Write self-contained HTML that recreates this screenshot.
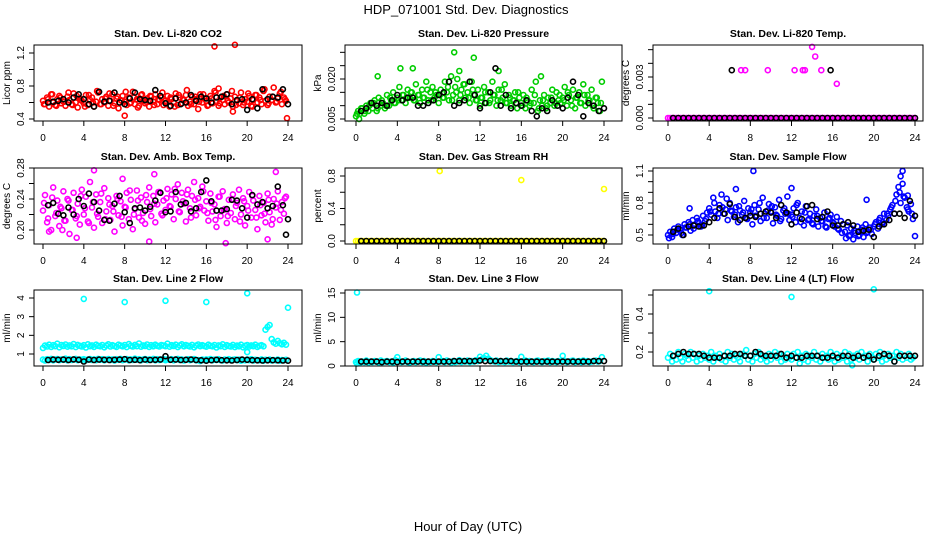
<!DOCTYPE html>
<html><head><meta charset="utf-8"><style>
html,body{margin:0;padding:0;background:#fff;}
svg{display:block;font-family:"Liberation Sans",Arial,sans-serif;}
</style></head><body>
<svg id="chart" width="936" height="540" viewBox="0 0 936 540">
<text x="466" y="14" font-size="13" text-anchor="middle">HDP_071001  Std. Dev. Diagnostics</text>
<text x="468" y="531" font-size="13" text-anchor="middle">Hour of Day (UTC)</text>
<g id="panels"></g>
</svg>
<script>
const xTicks=[0,4,8,12,16,20,24];
const fine=i=>i*0.2;   // colored series sampled every 0.2 h
const mid=i=>0.1+i*0.4; // extra colored samples every 0.4 h
const half=i=>0.5+i*0.5; // black series every 0.5 h

// ---- Panel 1: CO2 ----
const co2Red=[0.62,0.58,0.66,0.55,0.70,0.60,0.57,0.64,0.68,0.59,0.61,0.56,0.67,0.63,0.58,0.71,0.60,0.54,0.65,0.62,
0.59,0.69,0.57,0.63,0.66,0.55,0.61,0.72,0.58,0.64,0.60,0.67,0.56,0.62,0.70,0.59,0.65,0.53,0.63,0.68,
0.61,0.57,0.66,0.60,0.73,0.58,0.64,0.56,0.69,0.62,0.59,0.65,0.55,0.67,0.61,0.70,0.58,0.63,0.66,0.57,
0.62,0.68,0.55,0.64,0.60,0.71,0.57,0.66,0.59,0.63,0.69,0.56,0.61,0.67,0.58,0.64,0.52,0.70,0.60,0.65,
0.62,0.57,0.68,0.59,0.74,0.61,0.56,0.66,0.63,0.58,0.70,0.60,0.65,0.55,0.67,0.62,0.59,0.72,0.57,0.64,
0.61,0.68,0.56,0.63,0.69,0.60,0.66,0.58,0.74,0.62,0.57,0.67,0.63,0.78,0.60,0.65,0.71,0.58,0.66,0.62];
const co2Red2=[0.58,0.64,0.70,0.56,0.66,0.61,0.72,0.57,0.68,0.63,0.55,0.69,0.60,0.74,0.58,0.65,0.71,0.56,0.67,0.62,
0.73,0.59,0.66,0.54,0.70,0.61,0.68,0.57,0.64,0.72,0.60,0.66,0.55,0.69,0.63,0.75,0.58,0.67,0.61,0.70,
0.56,0.65,0.72,0.59,0.68,0.62,0.74,0.57,0.66,0.60,0.71,0.55,0.69,0.63,0.76,0.59,0.67,0.61,0.73,0.64];
const co2OutX=[16.8,18.8,8.0,23.9,18.6,17.2];
const co2OutY=[1.28,1.30,0.44,0.41,0.49,0.77];
const co2Black=[0.60,0.61,0.62,0.64,0.60,0.66,0.70,0.64,0.58,0.55,0.73,0.61,0.62,0.72,0.60,0.58,0.65,0.72,0.64,0.63,0.62,0.75,0.68,0.59,0.56,0.65,0.58,0.60,0.69,0.62,0.67,0.65,0.60,0.66,0.67,0.70,0.58,0.63,0.64,0.51,0.64,0.53,0.76,0.64,0.67,0.66,0.76,0.58];

// ---- Panel 2: Pressure ----
const presGreen=[0.006,0.008,0.007,0.009,0.007,0.010,0.008,0.011,0.009,0.012,0.008,0.013,0.010,0.011,0.009,0.014,0.010,0.012,0.015,0.011,
0.013,0.017,0.012,0.014,0.011,0.016,0.013,0.015,0.012,0.018,0.014,0.011,0.016,0.013,0.019,0.012,0.015,0.017,0.013,0.014,
0.011,0.016,0.013,0.019,0.015,0.012,0.021,0.014,0.017,0.020,0.012,0.016,0.018,0.013,0.015,0.011,0.019,0.014,0.012,0.016,
0.010,0.013,0.017,0.011,0.015,0.012,0.019,0.014,0.010,0.016,0.012,0.013,0.018,0.011,0.014,0.010,0.012,0.015,0.009,0.013,
0.011,0.014,0.009,0.012,0.010,0.016,0.011,0.019,0.008,0.012,0.010,0.014,0.009,0.013,0.011,0.016,0.010,0.015,0.012,0.011,
0.013,0.017,0.010,0.014,0.012,0.016,0.009,0.013,0.015,0.011,0.018,0.010,0.014,0.012,0.016,0.009,0.013,0.011,0.008,0.019];
const presGreen2=[0.007,0.009,0.008,0.010,0.011,0.009,0.012,0.010,0.013,0.011,0.012,0.014,0.013,0.015,0.012,0.014,0.013,0.016,0.012,0.015,
0.014,0.013,0.017,0.012,0.015,0.014,0.018,0.013,0.016,0.012,0.013,0.015,0.011,0.014,0.012,0.016,0.011,0.013,0.012,0.015,
0.010,0.013,0.011,0.014,0.009,0.012,0.010,0.013,0.011,0.014,0.012,0.015,0.010,0.013,0.011,0.014,0.012,0.010,0.013,0.011];
const presOutX=[9.5,11.4,5.5,4.3,2.1,13.8,17.9,10.0,0.3];
const presOutY=[0.030,0.028,0.024,0.024,0.021,0.023,0.021,0.023,0.005];
const presBlack=[0.008,0.009,0.011,0.010,0.011,0.010,0.012,0.014,0.012,0.013,0.013,0.010,0.010,0.011,0.012,0.014,0.015,0.019,0.010,0.011,0.012,0.019,0.014,0.009,0.011,0.015,0.024,0.010,0.014,0.009,0.011,0.010,0.012,0.008,0.006,0.009,0.008,0.012,0.010,0.009,0.013,0.019,0.014,0.006,0.011,0.010,0.008,0.009];

// ---- Panel 3: Li-820 Temp ----
const tempMag=new Array(121).fill(0);
const tempOutX=[7.1,7.5,9.7,12.3,13.1,13.3,14.9,14.0,14.3,16.4];
const tempOutY=[0.0035,0.0035,0.0035,0.0035,0.0035,0.0035,0.0035,0.0052,0.0045,0.0025];
const tempBlack=new Array(48).fill(0);
const tempBlkOutX=[6.2,15.8];
const tempBlkOutY=[0.0035,0.0035];

// ---- Panel 4: Amb Box Temp ----
const boxMag=[0.225,0.245,0.210,0.232,0.200,0.255,0.218,0.238,0.205,0.228,0.250,0.212,0.240,0.195,0.226,0.248,0.215,0.234,0.207,0.252,
0.220,0.243,0.211,0.262,0.229,0.203,0.246,0.217,0.236,0.209,0.254,0.224,0.241,0.213,0.231,0.198,0.244,0.219,0.237,0.206,
0.230,0.248,0.214,0.239,0.201,0.227,0.251,0.216,0.242,0.222,0.208,0.236,0.255,0.218,0.244,0.210,0.233,0.249,0.221,0.238,
0.226,0.253,0.231,0.246,0.214,0.240,0.259,0.223,0.248,0.234,0.211,0.252,0.228,0.244,0.262,0.219,0.241,0.230,0.256,0.225,
0.237,0.212,0.247,0.224,0.233,0.204,0.243,0.218,0.250,0.227,0.209,0.239,0.222,0.246,0.214,0.235,0.252,0.220,0.241,0.206,
0.231,0.249,0.216,0.238,0.226,0.201,0.244,0.219,0.235,0.210,0.247,0.223,0.207,0.240,0.229,0.250,0.213,0.236,0.221,0.243];
const boxMag2=[0.235,0.215,0.242,0.222,0.230,0.212,0.238,0.226,0.218,0.244,0.228,0.209,0.236,0.221,0.247,0.214,0.233,0.224,0.240,0.217,
0.229,0.251,0.220,0.238,0.212,0.245,0.227,0.234,0.249,0.219,0.241,0.230,0.253,0.224,0.237,0.246,0.216,0.239,0.228,0.250,
0.222,0.235,0.213,0.243,0.226,0.218,0.240,0.231,0.211,0.237,0.225,0.244,0.216,0.232,0.221,0.239,0.214,0.234,0.226,0.241];
const boxOutX=[5.0,7.8,10.9,22.8,10.4,17.9,22.0,3.3,0.6,1.9];
const boxOutY=[0.277,0.266,0.272,0.275,0.185,0.183,0.188,0.190,0.198,0.200];
const boxBlack=[0.232,0.235,0.221,0.219,0.229,0.220,0.240,0.231,0.247,0.236,0.225,0.213,0.212,0.234,0.244,0.223,0.209,0.228,0.229,0.225,0.230,0.238,0.248,0.223,0.224,0.249,0.233,0.235,0.224,0.228,0.249,0.264,0.237,0.225,0.225,0.227,0.239,0.238,0.228,0.216,0.245,0.233,0.236,0.228,0.231,0.256,0.232,0.214];
const boxBlkOutX=[23.8];
const boxBlkOutY=[0.194];

// ---- Panel 5: Gas Stream RH ----
const rhYel=new Array(121).fill(0);
const rhOutX=[8.1,16.0,24.0];
const rhOutY=[0.86,0.75,0.64];
const rhBlack=new Array(48).fill(0);

// ---- Panel 6: Sample Flow ----
const sfBlue=[0.50,0.53,0.48,0.56,0.52,0.58,0.55,0.50,0.60,0.57,0.62,0.54,0.64,0.59,0.66,0.61,0.58,0.68,0.63,0.71,
0.75,0.69,0.85,0.72,0.66,0.78,0.88,0.70,0.74,0.64,0.80,0.72,0.67,0.76,0.62,0.73,0.69,0.82,0.66,0.75,
0.71,0.60,0.78,0.68,0.74,0.63,0.85,0.70,0.66,0.79,0.72,0.61,0.76,0.68,0.83,0.65,0.73,0.70,0.86,0.64,
0.69,0.75,0.62,0.80,0.66,0.72,0.59,0.77,0.64,0.70,0.61,0.68,0.74,0.58,0.66,0.63,0.71,0.57,0.65,0.69,
0.62,0.58,0.67,0.55,0.63,0.60,0.53,0.59,0.49,0.56,0.46,0.52,0.58,0.50,0.55,0.48,0.60,0.53,0.57,0.51,
0.58,0.62,0.56,0.66,0.60,0.70,0.64,0.68,0.74,0.78,0.70,0.88,0.95,0.80,0.98,0.85,0.76,0.72,0.79,0.65];
const sfBlue2=[0.47,0.51,0.55,0.52,0.57,0.60,0.56,0.63,0.59,0.65,0.72,0.80,0.70,0.76,0.84,0.73,0.69,0.77,0.71,0.65,
0.74,0.68,0.80,0.66,0.73,0.77,0.69,0.63,0.75,0.70,0.67,0.78,0.62,0.71,0.65,0.60,0.68,0.63,0.58,0.66,
0.61,0.56,0.52,0.47,0.50,0.54,0.49,0.57,0.52,0.55,0.60,0.64,0.62,0.70,0.76,0.82,0.90,0.86,0.74,0.70];
const sfOutX=[8.3,22.8,6.6,12.0,19.3,24.0,2.1,22.6,23.3];
const sfOutY=[1.10,1.10,0.93,0.94,0.83,0.49,0.75,1.05,0.87];
const sfBlack=[0.53,0.56,0.50,0.58,0.59,0.58,0.59,0.62,0.66,0.75,0.70,0.79,0.67,0.64,0.66,0.68,0.67,0.70,0.72,0.71,0.66,0.78,0.71,0.60,0.71,0.65,0.77,0.78,0.65,0.67,0.72,0.59,0.59,0.60,0.62,0.59,0.53,0.54,0.55,0.48,0.58,0.60,0.64,0.70,0.70,0.66,0.82,0.68];

// ---- Panel 7: Line 2 Flow ----
const l2Hi=[1.32,1.45,1.40,1.50,1.38,1.47,1.42,1.55,1.36,1.48,1.43,1.51,1.39,1.46,1.41,1.53,1.37,1.49,1.44,1.40,
1.47,1.35,1.52,1.42,1.46,1.38,1.50,1.44,1.41,1.48,1.36,1.45,1.52,1.40,1.47,1.43,1.38,1.50,1.45,1.41,
1.48,1.37,1.53,1.44,1.40,1.49,1.42,1.56,1.39,1.46,1.43,1.51,1.38,1.47,1.41,1.50,1.44,1.40,1.48,1.45,
1.42,1.55,1.39,1.47,1.43,1.50,1.37,1.46,1.52,1.41,1.48,1.44,1.40,1.49,1.36,1.45,1.51,1.42,1.47,1.43,
1.39,1.50,1.44,1.41,1.48,1.35,1.46,1.42,1.52,1.38,1.47,1.43,1.40,1.49,1.37,1.45,1.41,1.50,1.36,1.44,
1.48,1.40,1.46,1.42,1.50,1.38,1.44,1.47,1.41,2.30,2.45,2.55,1.80,1.62,1.55,1.70,1.58,1.52,1.60,1.50];
const l2Lo=[0.70,0.65,0.72,0.68,0.74,0.66,0.70,0.73,0.67,0.71,0.69,0.75,0.66,0.72,0.68,0.70,0.74,0.67,0.71,0.69,
0.72,0.66,0.70,0.73,0.68,0.71,0.67,0.74,0.69,0.72,0.66,0.70,0.73,0.68,0.71,0.65,0.72,0.69,0.74,0.67,
0.70,0.73,0.66,0.71,0.68,0.75,0.69,0.72,0.66,0.70,0.73,0.67,0.71,0.69,0.74,0.66,0.72,0.68,0.70,0.73,
0.67,0.71,0.69,0.72,0.66,0.70,0.74,0.68,0.71,0.65,0.69,0.72,0.67,0.70,0.73,0.66,0.68,0.62,0.70,0.67,
0.71,0.69,0.73,0.66,0.70,0.68,0.72,0.67,0.65,0.70,0.68,0.72,0.66,0.69,0.71,0.67,0.70,0.64,0.68,0.66,
0.70,0.67,0.72,0.65,0.69,0.68,0.66,0.71,0.64,0.69,0.67,0.70,0.65,0.68,0.66,0.70,0.64,0.68,0.66,0.69];
const l2OutX=[4.0,8.0,12.0,16.0,20.0,24.0,20.0];
const l2OutY=[3.95,3.78,3.85,3.78,4.25,3.48,1.10];
const l2Black=[0.68,0.70,0.69,0.70,0.68,0.71,0.69,0.60,0.70,0.68,0.70,0.69,0.68,0.69,0.70,0.72,0.68,0.69,0.67,0.70,0.68,0.69,0.70,0.88,0.69,0.70,0.68,0.69,0.70,0.68,0.66,0.64,0.67,0.69,0.67,0.66,0.65,0.68,0.70,0.69,0.67,0.66,0.65,0.66,0.67,0.66,0.65,0.64];

// ---- Panel 8: Line 3 Flow ----
const l3Cyan=[0.8,1.0,0.7,0.9,0.8,1.1,0.7,0.9,0.8,1.0,0.9,0.7,1.1,0.8,0.9,1.0,0.8,0.9,0.7,1.2,
1.8,1.0,0.8,0.9,1.1,0.8,0.7,0.9,1.0,0.8,0.9,1.1,0.8,1.0,0.7,0.9,0.8,1.0,0.9,0.8,
1.8,0.9,1.0,0.8,1.1,0.9,0.7,1.0,0.8,0.9,1.2,0.8,1.0,0.9,1.1,0.8,1.0,0.9,1.2,1.0,
1.9,1.4,1.6,2.1,1.5,1.2,1.0,0.9,1.1,0.8,1.0,0.9,0.8,1.1,0.9,1.0,0.8,0.9,1.0,0.8,
1.9,0.9,1.1,0.8,1.0,0.9,0.8,1.0,1.1,0.9,0.8,1.0,0.9,1.1,0.8,1.0,0.9,0.8,1.0,0.9,
2.1,1.0,0.8,0.9,1.0,1.1,0.8,0.9,1.0,0.8,1.1,0.9,1.0,0.8,0.9,1.0,1.1,0.9,1.0,1.8];
const l3OutX=[0.1,0.1];
const l3OutY=[15.1,0.5];
const l3Black=[0.9,0.9,0.9,0.9,0.8,0.9,0.9,0.8,0.9,0.9,0.9,0.9,0.9,0.9,0.9,0.9,0.9,0.9,1.0,1.0,1.0,1.0,1.0,1.1,1.0,1.0,1.0,1.0,1.0,1.0,0.9,0.9,0.9,0.9,0.9,0.9,0.9,0.9,0.9,0.9,0.9,0.9,0.9,0.9,0.9,1.0,1.0,1.0];

// ---- Panel 9: Line 4 Flow ----
const l4Cyan=[0.17,0.19,0.15,0.18,0.16,0.20,0.17,0.15,0.19,0.18,0.16,0.20,0.17,0.19,0.15,0.18,0.16,0.19,0.17,0.18,
0.16,0.20,0.15,0.18,0.17,0.19,0.16,0.18,0.15,0.20,0.17,0.19,0.16,0.18,0.17,0.15,0.19,0.18,0.21,0.16,
0.18,0.15,0.19,0.17,0.20,0.16,0.18,0.17,0.15,0.19,0.16,0.18,0.20,0.17,0.19,0.15,0.18,0.16,0.19,0.17,
0.16,0.19,0.17,0.20,0.14,0.18,0.16,0.19,0.15,0.18,0.17,0.20,0.16,0.18,0.15,0.19,0.17,0.18,0.16,0.20,
0.17,0.15,0.19,0.16,0.18,0.17,0.20,0.15,0.19,0.16,0.18,0.17,0.19,0.16,0.20,0.17,0.18,0.15,0.19,0.17,
0.16,0.19,0.17,0.20,0.15,0.18,0.16,0.19,0.17,0.18,0.15,0.20,0.17,0.19,0.16,0.18,0.17,0.19,0.16,0.17];
const l4OutX=[4.0,12.0,20.0,17.9];
const l4OutY=[0.52,0.49,0.53,0.13];
const l4Black=[0.18,0.19,0.20,0.19,0.19,0.19,0.18,0.17,0.17,0.17,0.18,0.18,0.19,0.19,0.18,0.18,0.20,0.19,0.18,0.18,0.18,0.19,0.17,0.18,0.17,0.17,0.18,0.18,0.18,0.17,0.17,0.18,0.17,0.18,0.18,0.17,0.18,0.17,0.18,0.16,0.18,0.19,0.18,0.15,0.18,0.18,0.18,0.18];

// ---- axis ticks ----
const p1Ticks=[0.4,0.6,0.8,1.0,1.2], p1Labels=["0.4","","0.8","","1.2"];
const p2Ticks=[0.005,0.010,0.015,0.020,0.025,0.030], p2Labels=["0.005","","","0.020","",""];
const p3Ticks=[0,0.001,0.002,0.003,0.004,0.005], p3Labels=["0.000","","","0.003","",""];
const p4Ticks=[0.20,0.22,0.24,0.26,0.28], p4Labels=["0.20","","0.24","","0.28"];
const p5Ticks=[0,0.2,0.4,0.6,0.8], p5Labels=["0.0","","0.4","","0.8"];
const p6Ticks=[0.5,0.6,0.7,0.8,0.9,1.0,1.1], p6Labels=["0.5","","","0.8","","","1.1"];
const p7Ticks=[1,2,3,4], p7Labels=["1","2","3","4"];
const p8Ticks=[0,5,10,15], p8Labels=["0","5","10","15"];
const p9Ticks=[0.2,0.3,0.4,0.5], p9Labels=["0.2","","0.4",""];

const NS="http://www.w3.org/2000/svg";
const root=document.getElementById('panels');
const cols=[{l:34,r:302,x0:43,x24:288},{l:345,r:622,x0:356,x24:604},{l:653,r:923,x0:668,x24:915}];
const rows=[{t:45,b:121},{t:168,b:244},{t:290,b:366}];
function el(tag,attrs,parent){const e=document.createElementNS(NS,tag);for(const k in attrs)e.setAttribute(k,attrs[k]);parent.appendChild(e);return e;}
function idx(n,f){const a=[];for(let i=0;i<n;i++)a.push(f(i));return a;}

function panel(name,title,ylab,c,r,yRef,ticks,labels,series){
  const C=cols[c],R=rows[r];
  const g=el('g',{},root);
  
  
  const sx=h=>C.x0+(C.x24-C.x0)*h/24;
  const sy=v=>yRef[1]+(v-yRef[0])*(yRef[3]-yRef[1])/(yRef[2]-yRef[0]);
  const cx=(C.l+C.r)/2;
  const t=el('text',{x:cx,y:R.t-8,'font-size':10.5,'font-weight':'bold','text-anchor':'middle'},g);
  t.textContent=title;
  
  
  const pts=el('g',{fill:'none','stroke-width':1.6},g);
  
  
  series.forEach(s=>{
    for(let i=0;i<s.y.length;i++){
      const px=sx(s.x[i]),py=sy(s.y[i]);
      const m=el('circle',{cx:px.toFixed(1),cy:py.toFixed(1),r:2.5,stroke:s.color},pts);
      
      
    }
  });
  const box=el('rect',{x:C.l,y:R.t,width:C.r-C.l,height:R.b-R.t,fill:'none',stroke:'#000','stroke-width':1},g);
  
  
  const xa=el('g',{},g);
  
  
  el('line',{x1:sx(0),x2:sx(24),y1:R.b,y2:R.b,stroke:'#000'},xa);
  xTicks.forEach(h=>{
    el('line',{x1:sx(h),x2:sx(h),y1:R.b,y2:R.b+5,stroke:'#000'},xa);
    const tl=el('text',{x:sx(h),y:R.b+20,'font-size':10,'text-anchor':'middle'},xa);
    tl.textContent=h;
    
    
  });
  const ya=el('g',{},g);
  
  
  el('line',{x1:C.l,x2:C.l,y1:sy(ticks[0]),y2:sy(ticks[ticks.length-1]),stroke:'#000'},ya);
  ticks.forEach((v,i)=>{
    const y=sy(v);
    el('line',{x1:C.l-5,x2:C.l,y1:y,y2:y,stroke:'#000'},ya);
    if(labels[i]){
      const tl=el('text',{x:0,y:0,'font-size':10,'text-anchor':'middle',transform:`translate(${C.l-10},${y}) rotate(-90)`},ya);
      tl.textContent=labels[i];
      
      
    }
  });
  const yl=el('text',{x:0,y:0,'font-size':10,'text-anchor':'middle',transform:`translate(${C.l-24},${(R.t+R.b)/2}) rotate(-90)`},g);
  yl.textContent=ylab;
  
  
}
const fx=a=>idx(a.length,fine), mx=a=>idx(a.length,mid), bx=a=>idx(a.length,half);

panel('panel-co2','Stan. Dev. Li-820 CO2','Licor ppm',0,0,[0.4,119,1.2,53],p1Ticks,p1Labels,[
 {x:fx(co2Red),y:co2Red,color:'#ff0000'},{x:mx(co2Red2),y:co2Red2,color:'#ff0000'},{x:co2OutX,y:co2OutY,color:'#ff0000'},{x:bx(co2Black),y:co2Black,color:'#000'}]);
panel('panel-pressure','Stan. Dev. Li-820 Pressure','kPa',1,0,[0.005,119,0.020,79],p2Ticks,p2Labels,[
 {x:fx(presGreen),y:presGreen,color:'#00cd00'},{x:mx(presGreen2),y:presGreen2,color:'#00cd00'},{x:presOutX,y:presOutY,color:'#00cd00'},{x:bx(presBlack),y:presBlack,color:'#000'}]);
panel('panel-li820-temp','Stan. Dev. Li-820 Temp.','degrees C',2,0,[0,118,0.003,77],p3Ticks,p3Labels,[
 {x:fx(tempMag),y:tempMag,color:'#ff00ff'},{x:tempOutX,y:tempOutY,color:'#ff00ff'},{x:bx(tempBlack),y:tempBlack,color:'#000'},{x:tempBlkOutX,y:tempBlkOutY,color:'#000'}]);
panel('panel-box-temp','Stan. Dev. Amb. Box Temp.','degrees C',0,1,[0.20,230,0.28,168],p4Ticks,p4Labels,[
 {x:fx(boxMag),y:boxMag,color:'#ff00ff'},{x:mx(boxMag2),y:boxMag2,color:'#ff00ff'},{x:boxOutX,y:boxOutY,color:'#ff00ff'},{x:bx(boxBlack),y:boxBlack,color:'#000'},{x:boxBlkOutX,y:boxBlkOutY,color:'#000'}]);
panel('panel-rh','Stan. Dev. Gas Stream RH','percent',1,1,[0,241,0.8,176],p5Ticks,p5Labels,[
 {x:fx(rhYel),y:rhYel,color:'#ffff00'},{x:rhOutX,y:rhOutY,color:'#ffff00'},{x:bx(rhBlack),y:rhBlack,color:'#000'}]);
panel('panel-sample-flow','Stan. Dev. Sample Flow','ml/min',2,1,[0.5,235,1.1,171],p6Ticks,p6Labels,[
 {x:fx(sfBlue),y:sfBlue,color:'#0000ff'},{x:mx(sfBlue2),y:sfBlue2,color:'#0000ff'},{x:sfOutX,y:sfOutY,color:'#0000ff'},{x:bx(sfBlack),y:sfBlack,color:'#000'}]);
panel('panel-line2','Stan. Dev. Line 2 Flow','ml/min',0,2,[1,354,4,298],p7Ticks,p7Labels,[
 {x:fx(l2Hi),y:l2Hi,color:'#00ffff'},{x:fx(l2Lo),y:l2Lo,color:'#00ffff'},{x:l2OutX,y:l2OutY,color:'#00ffff'},{x:bx(l2Black),y:l2Black,color:'#000'}]);
panel('panel-line3','Stan. Dev. Line 3 Flow','ml/min',1,2,[0,366,15,293],p8Ticks,p8Labels,[
 {x:fx(l3Cyan),y:l3Cyan,color:'#00ffff'},{x:l3OutX,y:l3OutY,color:'#00ffff'},{x:bx(l3Black),y:l3Black,color:'#000'}]);
panel('panel-line4','Stan. Dev. Line 4 (LT) Flow','ml/min',2,2,[0.2,352,0.4,314],p9Ticks,p9Labels,[
 {x:fx(l4Cyan),y:l4Cyan,color:'#00ffff'},{x:l4OutX,y:l4OutY,color:'#00ffff'},{x:bx(l4Black),y:l4Black,color:'#000'}]);
</script>
</body></html>
